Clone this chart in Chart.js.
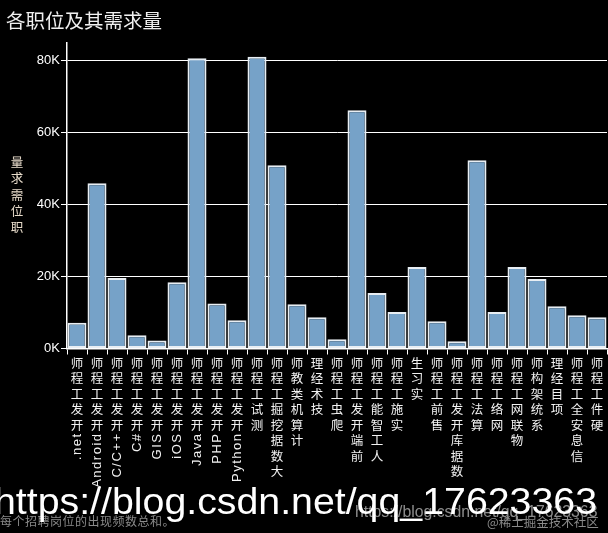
<!DOCTYPE html>
<html>
<head>
<meta charset="utf-8">
<script src="https://cdn.jsdelivr.net/npm/chart.js@4"></script>
<style>
  body { margin: 0; background: #000; }
  canvas { display: block; }
</style>
</head>
<body>
<canvas id="chart" width="608" height="533"></canvas>
<script>
const jobs = [
  ".net开发工程师", "Android开发工程师", "C/C++开发工程师", "C#开发工程师", "GIS开发工程师",
  "iOS开发工程师", "Java开发工程师", "PHP开发工程师", "Python开发工程师", "测试工程师",
  "大数据挖掘工程师", "计算机类教师", "技术经理", "爬虫工程师", "前端开发工程师",
  "人工智能工程师", "实施工程师", "实习生", "售前工程师", "数据库开发工程师",
  "算法工程师", "网络工程师", "物联网工程师", "系统架构师", "项目经理",
  "信息安全工程师", "硬件工程师"
];
const demand = [
  7150, 45800, 19550, 3650, 2250,
  18350, 80500, 12500, 7800, 80900,
  50800, 12250, 8650, 2550, 66050,
  15400, 10100, 22600, 7550, 2000,
  52200, 10100, 22600, 19250, 11700,
  9200, 8650
];
const yTicks = [0, 20000, 40000, 60000, 80000];
const title = "各职位及其需求量";
const yTitle = "职位需求量";
const note = "每个招聘岗位的出现频数总和。";
const mark = "https://blog.csdn.net/qq_17623363";
const mark2 = "@稀土掘金技术社区";

const isCjk = ch => /[\u2E80-\u9FFF\u3000-\u303F\uFF00-\uFFEF]/.test(ch);

// vertical text: cjk glyphs stand upright, latin runs are turned, read bottom to top
function vtext(ctx, text, x, y, pitch, latinFont, cjkFont) {
  const chars = Array.from(text);
  let i = chars.length - 1;
  while (i >= 0) {
    if (isCjk(chars[i])) {
      ctx.font = cjkFont;
      ctx.textAlign = "center";
      ctx.textBaseline = "middle";
      ctx.fillText(chars[i], x, y + pitch / 2);
      y += pitch;
      i--;
    } else {
      let j = i;
      while (j >= 0 && !isCjk(chars[j])) j--;
      const run = chars.slice(j + 1, i + 1).join("");
      ctx.font = latinFont;
      ctx.letterSpacing = "1.5px";
      const w = ctx.measureText(run).width;
      ctx.save();
      ctx.translate(x, y + w);
      ctx.rotate(-Math.PI / 2);
      ctx.textAlign = "left";
      ctx.textBaseline = "middle";
      ctx.fillText(run, 0, 0);
      ctx.restore();
      ctx.letterSpacing = "0px";
      y += w + 2;
      i = j;
    }
  }
}

const decor = {
  id: "decor",
  beforeDraw(chart) {
    const c = chart.ctx;
    c.save();
    c.fillStyle = "#000";
    c.fillRect(0, 0, chart.width, chart.height);
    c.restore();
  },
  afterDraw(chart) {
    const c = chart.ctx;
    const xs = chart.scales.x;
    c.save();
    // title
    c.fillStyle = "#f0f0f0";
    c.font = "19.5px 'Noto Sans CJK SC'";
    c.textAlign = "left";
    c.textBaseline = "middle";
    c.fillText(title, 6, 21);
    // y axis title
    c.fillStyle = "#e8dccb";
    vtext(c, yTitle, 17, 154, 16.3, "13px 'Liberation Sans'", "12.5px 'Noto Sans CJK SC'");
    // category labels
    c.fillStyle = "#f2f2f2";
    jobs.forEach((j, i) => {
      vtext(c, j, xs.getPixelForValue(i), 355, 15.5, "13px 'Liberation Sans'", "12.5px 'Noto Sans CJK SC'");
    });
    // watermarks
    c.textBaseline = "alphabetic";
    c.textAlign = "left";
    c.fillStyle = "#8a8a8a";
    c.font = "12px 'Noto Sans CJK SC'";
    c.letterSpacing = "0.5px";
    c.fillText(note, 0, 526);
    c.letterSpacing = "0px";
    c.fillStyle = "rgba(200,200,200,0.7)";
    c.font = "15.8px 'Liberation Sans'";
    c.fillText(mark, 355, 517);
    c.fillStyle = "#8a8a8a";
    c.font = "12.5px 'Noto Sans CJK SC'";
    c.fillText(mark2, 487, 527);
    c.fillStyle = "#ffffff";
    c.font = "37.5px 'Liberation Sans'";
    const w = c.measureText(mark).width;
    c.save();
    c.translate(-6, 514);
    c.scale(603 / w, 1);
    c.fillText(mark, 0, 0);
    c.restore();
    c.restore();
  }
};

const data = {
  labels: jobs,
  datasets: [
    {
      label: "职位需求量",
      data: demand,
      backgroundColor: "#76a2c8",
      borderColor: "#e8eef3",
      borderWidth: 2,
      borderSkipped: false,
      barPercentage: 0.95,
      categoryPercentage: 1.0,
    },
  ],
};

const config = {
  type: "bar",
  data: data,
  options: {
    responsive: false,
    animation: false,
    devicePixelRatio: 1,
    layout: { padding: { top: 42.7, right: 1, left: 0, bottom: 0 } },
    plugins: {
      legend: { display: false },
      tooltip: { enabled: false },
    },
    scales: {
      x: {
        afterFit: (s) => { s.height = 184.5; },
        ticks: { display: false },
        grid: { drawOnChartArea: false, color: "#ffffff", tickLength: 6, offset: true },
        border: { color: "#ffffff", width: 1.5 },
      },
      y: {
        min: 0,
        max: 84800,
        afterFit: (s) => { s.width = 67; },
        afterBuildTicks: (s) => { s.ticks = yTicks.map((v) => ({ value: v })); },
        ticks: {
          color: "#ffffff",
          padding: 1,
          font: { family: "'Liberation Sans'", size: 13 },
          callback: (v) => v / 1000 + "K",
        },
        grid: { color: "#ffffff", lineWidth: 1, tickLength: 6 },
        border: { color: "#ffffff", width: 1.5 },
      },
    },
  },
  plugins: [decor],
};

const chart = new Chart(document.getElementById("chart"), config);
</script>
</body>
</html>
